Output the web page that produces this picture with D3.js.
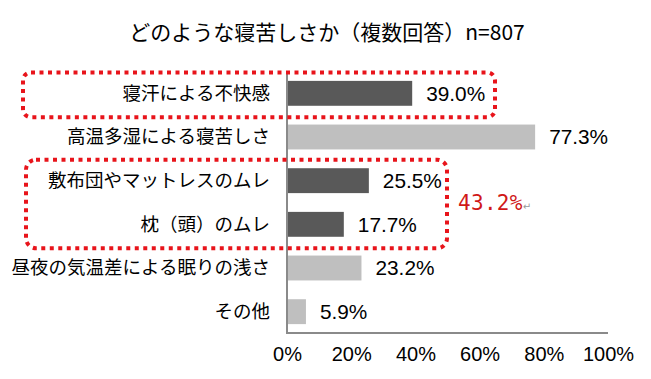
<!DOCTYPE html>
<html><head><meta charset="utf-8">
<script src="https://cdn.jsdelivr.net/npm/d3@7"></script>
<style>html,body{margin:0;padding:0;background:#fff;}svg{display:block;}</style>
</head><body>
<svg id="chart" width="651" height="379"></svg>
<script>
const title = "どのような寝苦しさか（複数回答）n=807";
const categories = ["寝汗による不快感","高温多湿による寝苦しさ","敷布団やマットレスのムレ","枕（頭）のムレ","昼夜の気温差による眠りの浅さ","その他"];
const values = [39.0, 77.3, 25.5, 17.7, 23.2, 5.9];
const highlighted = [true, false, true, true, false, false];
const tickValues = [0, 20, 40, 60, 80, 100];
const groupTotal = "43.2%";

const svg = d3.select("#chart");
const x = d3.scaleLinear().domain([0,100]).range([287,608]);
const y = d3.scaleBand().domain(categories).range([71.5,333.5]).paddingInner(0.43).paddingOuter(0.215);

// bars
svg.append("g").selectAll("rect").data(values).join("rect")
  .attr("x", x(0)).attr("y", (d,i)=>y(categories[i]))
  .attr("width", d=>x(d)-x(0)).attr("height", y.bandwidth())
  .attr("fill", (d,i)=>highlighted[i] ? "#595959" : "#BFBFBF");

// axes lines
svg.append("line").attr("x1",x(0)).attr("x2",x(0)).attr("y1",71).attr("y2",333)
  .attr("stroke","#8a8a8a").attr("stroke-width",2);
svg.append("line").attr("x1",x(0)-1).attr("x2",x(100)).attr("y1",333).attr("y2",333)
  .attr("stroke","#8a8a8a").attr("stroke-width",2);

// tick labels
const xAxis = d3.axisBottom(x).tickValues(tickValues).tickFormat(d=>d+"%").tickSize(0).tickPadding(0);
const ax = svg.append("g").attr("transform","translate(0,344)").call(xAxis);
ax.select(".domain").remove();
ax.selectAll("text").attr("font-family","Liberation Sans, Arial, sans-serif").attr("font-size",20).attr("fill","#000").attr("dy","0.85em");

// category labels
svg.append("g").selectAll("text").data(categories).join("text")
  .attr("x",270).attr("y",d=>y(d)+y.bandwidth()/2).attr("dy","0.35em")
  .attr("text-anchor","end").attr("font-family","Noto Sans CJK JP, sans-serif")
  .attr("font-size",18.5).attr("fill","#000").text(d=>d);

// value labels
svg.append("g").selectAll("text").data(values).join("text")
  .attr("x",d=>x(d)+14).attr("y",(d,i)=>y(categories[i])+y.bandwidth()/2).attr("dy","0.36em")
  .attr("font-family","Liberation Sans, Arial, sans-serif").attr("font-size",20.8).attr("fill","#000")
  .text(d=>d.toFixed(1)+"%");

// title
svg.append("text").attr("x",327).attr("y",40).attr("text-anchor","middle")
  .attr("font-family","Noto Sans CJK JP, sans-serif").attr("font-size",21).attr("fill","#000").text(title);

// red dotted boxes
const boxes = [
  {x0:23, x1:495, i0:0, i1:0, r:8},
  {x0:26, x1:447, i0:2, i1:3, r:10}
];
boxes.forEach(b=>{
  const y0 = y(categories[b.i0]) - 8.5;
  const y1 = y(categories[b.i1]) + y.bandwidth() + 11.5;
  svg.append("rect").attr("x",b.x0).attr("y",y0).attr("width",b.x1-b.x0).attr("height",y1-y0)
    .attr("rx",b.r).attr("ry",b.r).attr("fill","none").attr("stroke","#E8141B")
    .attr("stroke-width",4).attr("stroke-dasharray","4,4.5");
});

// group total annotation
const gt = svg.append("text").attr("x",458).attr("y",210)
  .attr("font-family","DejaVu Sans Mono, monospace").attr("font-size",21).attr("letter-spacing",0.3)
  .attr("fill","#D01818");
gt.append("tspan").text(groupTotal);
gt.append("tspan").attr("font-size",10).attr("fill","#999").attr("letter-spacing",0).attr("font-family","DejaVu Sans, sans-serif").text("↵");
</script>
</body></html>
